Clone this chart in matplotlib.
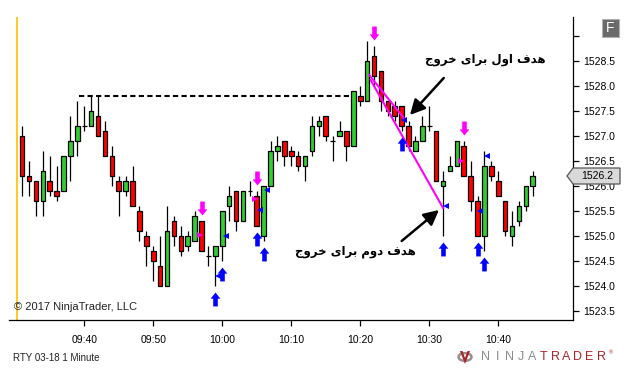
import numpy as np
import matplotlib
import matplotlib.pyplot as plt
from matplotlib.path import Path
from matplotlib.patches import Polygon, Rectangle, Circle
from matplotlib.transforms import IdentityTransform

plt.rcParams['font.family'] = ['Liberation Sans', 'DejaVu Sans']

# RTY 03-18, 1 minute bars from 09:31 to 10:45
start_minute = 9 * 60 + 31
opens = [1527.0, 1526.2, 1526.1, 1525.7, 1526.1, 1525.9, 1525.9, 1526.6, 1526.9, 1527.2,
         1527.2, 1527.4, 1527.1, 1526.6, 1526.1, 1525.9, 1526.1, 1525.5, 1525.0, 1524.7,
         1524.4, 1524.0, 1525.3, 1525.0, 1524.8, 1524.9, 1525.3, 1524.6, 1524.6, 1524.8,
         1525.6, 1525.9, 1525.3, 1525.9, 1525.8, 1525.0, 1526.0, 1526.7, 1526.9, 1526.7,
         1526.6, 1526.4, 1526.7, 1527.2, 1527.4, 1526.9, 1527.0, 1527.1, 1526.8, 1527.8,
         1527.7, 1528.6, 1528.3, 1527.7, 1527.6, 1527.6, 1527.2, 1526.7, 1526.9, 1527.2,
         1527.1, 1526.0, 1526.3, 1526.4, 1526.8, 1526.2, 1525.7, 1525.0, 1526.4, 1526.1,
         1525.7, 1525.0, 1525.3, 1525.6, 1526.0]
highs = [1527.2, 1526.5, 1526.1, 1526.7, 1526.6, 1526.4, 1526.6, 1527.4, 1527.7, 1527.6,
         1527.8, 1527.8, 1527.3, 1526.8, 1526.2, 1526.2, 1526.4, 1525.6, 1525.1, 1524.8,
         1525.0, 1525.6, 1525.4, 1525.2, 1525.1, 1525.5, 1525.3, 1524.8, 1524.8, 1525.5,
         1526.0, 1525.9, 1525.9, 1526.1, 1525.9, 1526.0, 1526.9, 1527.0, 1526.9, 1526.8,
         1526.7, 1526.6, 1527.4, 1527.4, 1527.4, 1527.0, 1527.3, 1527.1, 1527.9, 1528.0,
         1528.9, 1528.8, 1528.3, 1527.7, 1527.7, 1527.6, 1527.3, 1527.0, 1527.4, 1527.6,
         1527.1, 1526.3, 1526.6, 1526.9, 1526.9, 1526.5, 1525.8, 1526.7, 1526.5, 1526.3,
         1525.7, 1525.5, 1525.7, 1526.0, 1526.3]
lows = [1525.8, 1525.8, 1525.4, 1525.4, 1525.8, 1525.7, 1525.9, 1526.1, 1526.6, 1527.1,
        1527.2, 1527.0, 1526.6, 1526.0, 1525.4, 1525.8, 1525.6, 1524.9, 1524.4, 1524.1,
        1524.0, 1524.0, 1524.8, 1524.6, 1524.7, 1524.9, 1524.7, 1524.4, 1524.0, 1524.5,
        1525.3, 1525.1, 1525.3, 1525.8, 1525.2, 1524.9, 1526.0, 1526.5, 1526.4, 1526.4,
        1526.3, 1526.1, 1526.6, 1527.0, 1526.9, 1526.5, 1527.0, 1526.5, 1526.8, 1527.6,
        1527.7, 1528.0, 1527.5, 1527.4, 1527.3, 1527.1, 1526.7, 1526.7, 1526.9, 1527.1,
        1526.1, 1525.0, 1526.3, 1526.4, 1526.2, 1525.5, 1525.0, 1524.7, 1526.1, 1525.8,
        1525.0, 1524.8, 1525.2, 1525.5, 1525.8]
closes = [1526.2, 1526.1, 1525.7, 1526.3, 1525.9, 1525.8, 1526.6, 1526.9, 1527.2, 1527.2,
          1527.5, 1527.0, 1526.6, 1526.2, 1525.9, 1526.1, 1525.6, 1525.1, 1524.8, 1524.5,
          1524.0, 1525.1, 1525.0, 1524.7, 1525.0, 1525.4, 1524.7, 1524.6, 1524.8, 1525.5,
          1525.8, 1525.3, 1525.9, 1525.9, 1525.2, 1526.0, 1526.7, 1526.8, 1526.6, 1526.6,
          1526.4, 1526.6, 1527.2, 1527.3, 1527.0, 1526.9, 1527.1, 1526.8, 1527.9, 1527.7,
          1528.5, 1528.2, 1527.7, 1527.5, 1527.4, 1527.2, 1526.8, 1526.9, 1527.2, 1527.2,
          1526.1, 1526.1, 1526.4, 1526.9, 1526.2, 1525.7, 1525.0, 1526.4, 1526.2, 1525.8,
          1525.1, 1525.2, 1525.6, 1526.0, 1526.2]

# strategy signals: (bar index, price)
long_arrows = [(28, 1523.74), (29, 1524.25), (34, 1524.94), (35, 1524.64),
               (55, 1526.85), (61, 1524.74), (66, 1524.74), (67, 1524.44)]
short_arrows = [(26, 1525.56), (34, 1526.16), (51, 1529.06), (64, 1527.16)]
exit_marks = [(29.5, 1525.0), (28.4, 1524.2), (34.5, 1525.52), (35.5, 1525.92),
              (55.4, 1527.32), (61.4, 1525.6), (66.4, 1525.5), (67.4, 1526.6)]
entry_marks = [(25.7, 1525.02), (33.7, 1525.74), (63.6, 1526.5)]

resistance = (8.2, 48.2, 1527.8)
target_lines = [((50.3, 1528.22), (55.3, 1527.36)),
                ((50.5, 1528.12), (61.0, 1525.56))]

label_first = 'هدف اول برای خروج'
label_second = 'هدف دوم برای خروج'

W, H = 633, 378


def fx(px):
    return px / W


def fy(py):
    return 1 - py / H


# tiny Arabic shaper for the letters in the labels (isol, final, init, medial)
FORMS = {
    'ه': (0xFEE9, 0xFEEA, 0xFEEB, 0xFEEC), 'د': (0xFEA9, 0xFEAA, None, None),
    'ف': (0xFED1, 0xFED2, 0xFED3, 0xFED4), 'ا': (0xFE8D, 0xFE8E, None, None),
    'و': (0xFEED, 0xFEEE, None, None), 'ل': (0xFEDD, 0xFEDE, 0xFEDF, 0xFEE0),
    'ب': (0xFE8F, 0xFE90, 0xFE91, 0xFE92), 'ر': (0xFEAD, 0xFEAE, None, None),
    'ی': (0xFBFC, 0xFBFD, 0xFBFE, 0xFBFF), 'خ': (0xFEA5, 0xFEA6, 0xFEA7, 0xFEA8),
    'ج': (0xFE9D, 0xFE9E, 0xFE9F, 0xFEA0), 'م': (0xFEE1, 0xFEE2, 0xFEE3, 0xFEE4),
}


def shape(text):
    out = []
    for i, ch in enumerate(text):
        if ch not in FORMS:
            out.append(ch)
            continue
        prev = text[i - 1] if i > 0 else ' '
        nxt = text[i + 1] if i + 1 < len(text) else ' '
        jp = prev in FORMS and FORMS[prev][2] is not None
        jn = nxt in FORMS and FORMS[ch][2] is not None
        if jp and jn:
            f = FORMS[ch][3]
        elif jp:
            f = FORMS[ch][1]
        elif jn:
            f = FORMS[ch][2]
        else:
            f = FORMS[ch][0]
        out.append(chr(f))
    return ''.join(out)[::-1]


fig = plt.figure(figsize=(W / 100, H / 100), dpi=100)
ax = fig.add_axes([fx(9), fy(320), fx(573) - fx(9), fy(17) - fy(320)])

x = np.arange(len(opens))
o = np.array(opens)
c = np.array(closes)
up = c >= o
body_col = np.where(up, '#32cd32', '#ff0000')

ax.axvline(-0.75, color='#ffc000', lw=1.2, zorder=1)
ax.vlines(x, lows, highs, color='black', lw=0.9, zorder=2)
ax.bar(x, np.abs(c - o), bottom=np.minimum(o, c), width=0.67, color=body_col,
       edgecolor='black', linewidth=0.9, zorder=3)

ax.hlines(resistance[2], resistance[0], resistance[1], colors='black', lw=1.5,
          linestyles=(0, (2.5, 1.6)), zorder=2)
for (x0, y0), (x1, y1) in target_lines:
    ax.plot([x0, x1], [y0, y1], color='#ff00ff', lw=1.5, zorder=4)

# arrow markers
arrow_up = Path([(-0.33, -1), (0.33, -1), (0.33, 0.12), (0.7, 0.12), (0, 1),
                 (-0.7, 0.12), (-0.33, 0.12), (-0.33, -1)], closed=True)
arrow_dn = Path(arrow_up.vertices * [1, -1], closed=True)
lx, ly = zip(*long_arrows)
ax.plot(lx, ly, ls='none', marker=arrow_up, ms=10, color='#0000ff', mew=0, zorder=5)
sx, sy = zip(*short_arrows)
ax.plot(sx, sy, ls='none', marker=arrow_dn, ms=10, color='#ff00ff', mew=0, zorder=5)
ex, ey = zip(*exit_marks)
ax.plot(ex, ey, ls='none', marker='<', ms=5, color='#0000ff', mew=0, zorder=6)
nx, ny = zip(*entry_marks)
ax.plot(nx, ny, ls='none', marker='>', ms=5, color='#ff00ff', mew=0, zorder=6)

# annotations
arr = dict(arrowstyle='-|>,head_length=0.75,head_width=0.38', lw=1.8,
           color='black', mutation_scale=12, shrinkA=0, shrinkB=0)
ax.annotate('', xy=(56.2, 1527.42), xytext=(61.1, 1528.16), arrowprops=arr, zorder=7)
ax.annotate('', xy=(60.4, 1525.52), xytext=(55.0, 1524.9), arrowprops=arr, zorder=7)
ax.text(67.1, 1528.52, shape(label_first), family=['DejaVu Sans'], weight='bold',
        fontsize=8.5, ha='center', va='center', zorder=7)
ax.text(48.3, 1524.68, shape(label_second), family=['DejaVu Sans'], weight='bold',
        fontsize=8.5, ha='center', va='center', zorder=7)

ax.set_xlim(-1.91, 79.83)
ax.set_ylim(1523.32, 1529.38)

for s in ['left', 'top']:
    ax.spines[s].set_visible(False)
for s in ['right', 'bottom']:
    ax.spines[s].set_linewidth(0.9)

ax.yaxis.tick_right()
yt = np.arange(1523.5, 1529.01, 0.5)
ax.set_yticks(yt)
ax.set_yticklabels([f'{v:.1f}' if v < 1529 else '' for v in yt])
ax.tick_params(axis='y', direction='out', length=4.5, width=0.9, labelsize=7.5, pad=3)

minutes = start_minute + x
xt = x[minutes % 10 == 0]
ax.set_xticks(xt)
ax.set_xticklabels([f'{m // 60:02d}:{m % 60:02d}' for m in minutes[xt]])
ax.tick_params(axis='x', direction='out', length=4, width=0.9, labelsize=7.5, pad=7)

# last price flag
fig.canvas.draw()
ydisp = ax.transData.transform((0, closes[-1]))[1]
xr = ax.transAxes.transform((1, 0))[0]
flag = Polygon([(xr - 6, ydisp), (xr, ydisp + 8), (xr + 47, ydisp + 8),
                (xr + 47, ydisp - 8), (xr, ydisp - 8)], closed=True,
               transform=IdentityTransform(), facecolor='#d9d9d9',
               edgecolor='#555555', lw=0.9, zorder=10)
fig.add_artist(flag)
fig.text((xr + 24) / W, ydisp / H, f'{closes[-1]:.1f}', fontsize=7.5,
         ha='center', va='center', zorder=11)

# F button
fig.add_artist(Rectangle((fx(602), fy(37)), 17 / W, 18 / H, transform=fig.transFigure,
                         facecolor='#6a6a6a', edgecolor='#b0b0b0', lw=0.8))
fig.text(fx(610.5), fy(28), 'F', color='white', fontsize=10, ha='center', va='center')

fig.text(fx(14), fy(307), '\u00a9 2017 NinjaTrader, LLC', fontsize=8,
         ha='left', va='center', color='#222222')
fig.text(fx(13), fy(358), 'RTY 03-18 1 Minute', fontsize=7, ha='left',
         va='center', color='#222222')

# logo
fig.add_artist(Circle((fx(465), fy(357)), 6.5 / W, transform=fig.transFigure,
                      facecolor='none', edgecolor='#9a8f8a', lw=1.8))
fig.add_artist(Polygon([(fx(460), fy(351)), (fx(465), fy(364)), (fx(470), fy(351)),
                        (fx(467.5), fy(351)), (fx(465), fy(358)), (fx(462.5), fy(351))],
                       closed=True, transform=fig.transFigure, facecolor='#a8262b',
                       edgecolor='none'))
for i, ch in enumerate('NINJATRADER'):
    fig.text(fx(486 + i * 11.5), fy(357), ch, fontsize=9, ha='center', va='center',
             color='#8c8c8c' if i < 5 else '#a8262b')
fig.text(fx(611), fy(353), '\u00ae', fontsize=4, ha='center', va='center', color='#a8262b')

fig.savefig('out.png', dpi=100)
